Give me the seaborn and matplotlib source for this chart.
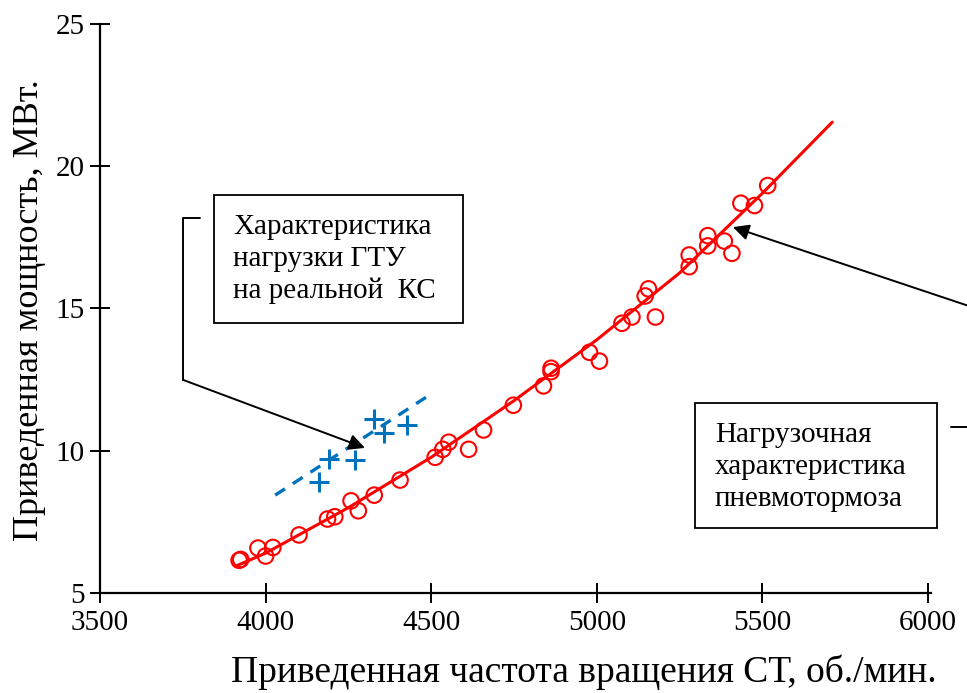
import seaborn as sns
import matplotlib.pyplot as plt
from matplotlib.patches import Rectangle

# измеренные точки (пневмотормоз)
brake_rpm = [3920, 3925, 3977, 4000, 4022, 4101, 4187, 4209, 4258, 4280, 4328, 4406,
             4512, 4535, 4553, 4613, 4658, 4748, 4839, 4862, 4862, 4978, 5008,
             5076, 5106, 5146, 5156, 5177, 5279, 5279, 5335, 5335, 5385, 5408,
             5435, 5476, 5516]
brake_mw = [6.15, 6.18, 6.58, 6.3, 6.6, 7.04, 7.6, 7.68, 8.24, 7.89, 8.44, 8.97,
            9.77, 10.05, 10.3, 10.05, 10.73, 11.6, 12.28, 12.9, 12.78, 13.46, 13.15,
            14.48, 14.7, 15.44, 15.69, 14.7, 16.47, 16.88, 17.2, 17.56, 17.37, 16.94,
            18.7, 18.62, 19.32]

# аппроксимирующая кривая
curve_rpm = [3911, 4000, 4250, 4500, 4750, 5000, 5250, 5500, 5711]
curve_mw = [5.95, 6.4, 8.0, 9.77, 11.76, 13.9, 16.25, 19.05, 21.55]

# ГТУ на реальной КС
gtu_rpm = [4160, 4190, 4270, 4326, 4356, 4427]
gtu_mw = [8.91, 9.7, 9.67, 11.1, 10.61, 10.9]
gtu_line_rpm = [4029, 4499]
gtu_line_mw = [8.44, 11.99]

xticks = [3500, 4000, 4500, 5000, 5500, 6000]
yticks = [5, 10, 15, 20, 25]

sns.set_style("ticks")
plt.rcParams['font.family'] = ['Liberation Serif', 'DejaVu Serif']
plt.rcParams['text.color'] = 'black'

RED = '#ff0000'
BLUE = '#0072bd'

fig = plt.figure(figsize=(9.67, 6.93), dpi=100)
ax = fig.add_axes([0.1034, 0.1443, 0.8597, 0.8211])

sns.lineplot(x=curve_rpm, y=curve_mw, color=RED, lw=2.2, estimator=None,
             sort=False, ax=ax)
sns.scatterplot(x=brake_rpm, y=brake_mw, marker='o', s=125, facecolor='none',
                edgecolor=RED, linewidth=1.5, ax=ax, zorder=3)
sns.lineplot(x=gtu_line_rpm, y=gtu_line_mw, color=BLUE, lw=2.4,
             linestyle=(0, (3.5, 2.8)), estimator=None, sort=False, ax=ax)
sns.scatterplot(x=gtu_rpm, y=gtu_mw, marker='+', s=190, color=BLUE,
                linewidth=2.2, ax=ax, zorder=3)

ax.set_xlim(3500, 6010)
ax.set_ylim(5, 25)
ax.set_xticks(xticks)
ax.set_yticks(yticks)
ax.tick_params(direction='inout', length=14, width=1.4, color='black',
               labelsize=21, labelcolor='black')
ax.tick_params(axis='x', pad=5)
ax.tick_params(axis='y', pad=4)
for s in ['top', 'right']:
    ax.spines[s].set_visible(False)
for s in ['left', 'bottom']:
    ax.spines[s].set_color('black')
    ax.spines[s].set_linewidth(1.6)

# подписи осей
fig.text(0.031, 0.553, 'Приведенная мощность, МВт.', rotation=90,
         ha='center', va='center', fontsize=26)
fig.text(0.604, 0.030, 'Приведенная частота вращения СТ, об./мин.',
         ha='center', va='center', fontsize=27)

# выноска 1
ax.add_patch(Rectangle((0.1371, 0.4745), 0.2996, 0.225, transform=ax.transAxes,
                       fill=False, edgecolor='black', lw=1.3, zorder=4))
ax.text(0.160, 0.587, 'Характеристика\nнагрузки ГТУ\nна реальной  КС',
        transform=ax.transAxes, ha='left', va='center', fontsize=21,
        linespacing=1.3)
ax.plot([3802, 3751, 3751], [18.18, 18.18, 12.49], color='black', lw=1.4)
ax.annotate('', xy=(4300, 10.1), xytext=(3751, 12.49),
            arrowprops=dict(arrowstyle='-|>', color='black', lw=1.4,
                            mutation_scale=24, shrinkA=0, shrinkB=0))

# выноска 2
ax.add_patch(Rectangle((0.7157, 0.1142), 0.2912, 0.2197, transform=ax.transAxes,
                       fill=False, edgecolor='black', lw=1.3, clip_on=False, zorder=4))
ax.text(0.7398, 0.2215, 'Нагрузочная\nхарактеристика\nпневмотормоза',
        transform=ax.transAxes, ha='left', va='center', fontsize=21,
        linespacing=1.3)
ax.plot([6069, 6140], [10.83, 10.83], color='black', lw=1.4, clip_on=False)
ax.annotate('', xy=(5411, 17.86), xytext=(6187, 14.84), annotation_clip=False,
            arrowprops=dict(arrowstyle='-|>', color='black', lw=1.4,
                            mutation_scale=24, shrinkA=0, shrinkB=0))

fig.savefig('out.png', dpi=100)
